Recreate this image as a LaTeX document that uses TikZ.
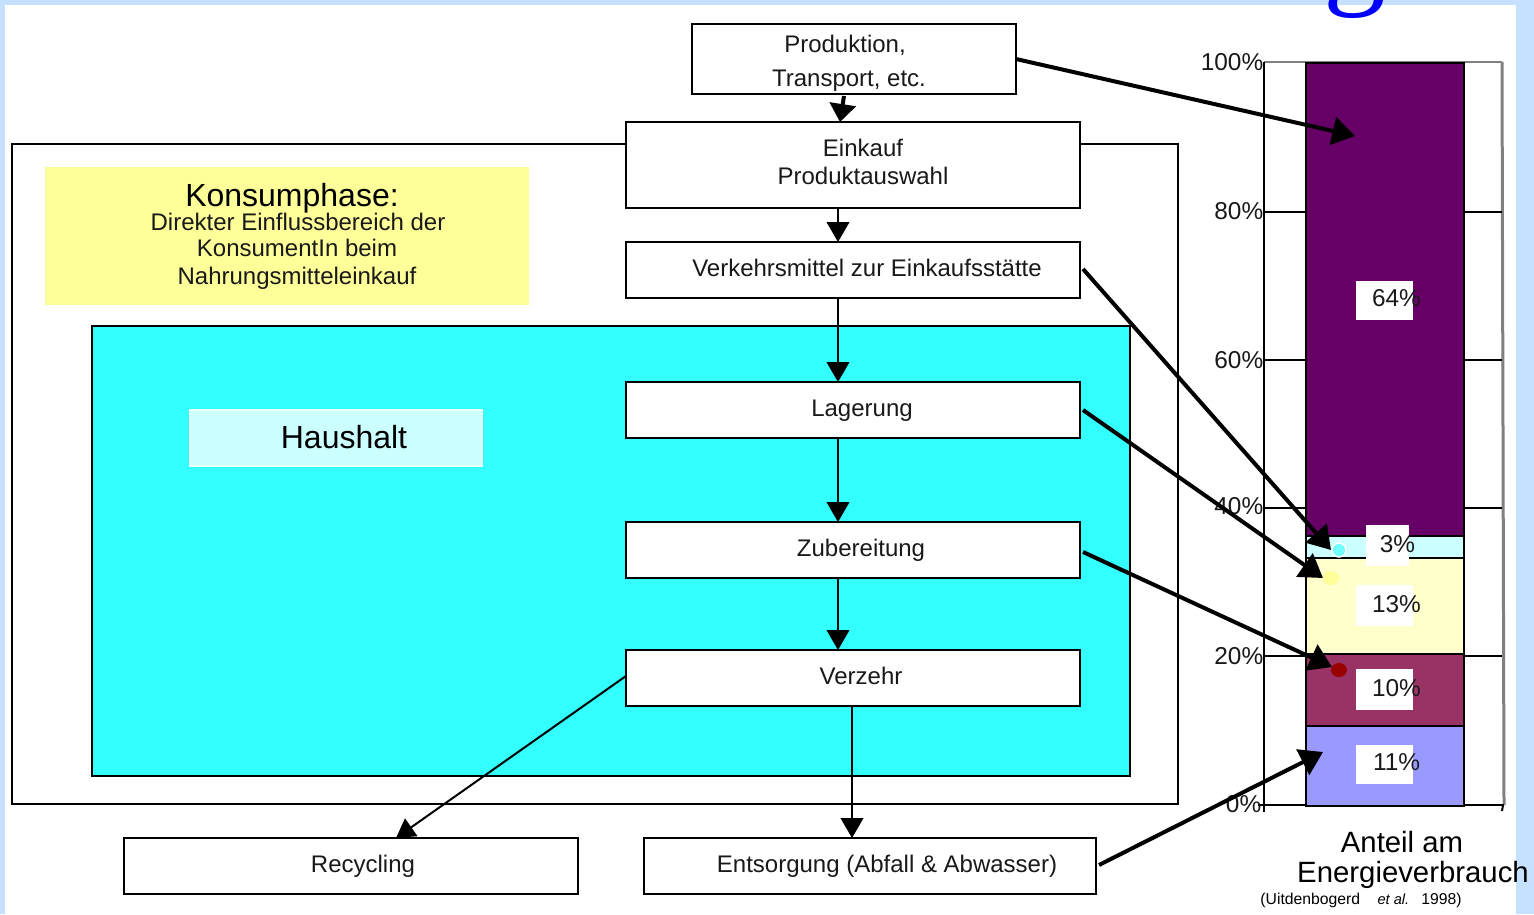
\documentclass[tikz,border=0pt]{standalone}
\usepackage{fontspec}
\setmainfont{Liberation Sans}
\newfontfamily\serifg{Liberation Serif}
\usetikzlibrary{arrows.meta,shapes.geometric}
\definecolor{pageblue}{HTML}{C6E0FF}
\definecolor{hh}{HTML}{33FFFF}
\definecolor{hhlight}{HTML}{CCFFFF}
\definecolor{yel}{HTML}{FFFF99}
\definecolor{lyel}{HTML}{FFFFCC}
\definecolor{purp}{HTML}{660066}
\definecolor{maro}{HTML}{993366}
\definecolor{peri}{HTML}{9999FF}
\tikzset{
  px/.style={line width=#1*0.75pt},
  boxn/.style={draw=black,px=2,fill=white,inner sep=0pt,outer sep=0pt,anchor=north west},
  txt/.style={inner sep=0pt,font=\fontsize{18}{18}\selectfont,text=black!90},
  bigtxt/.style={inner sep=0pt,font=\fontsize{24}{24}\selectfont,text=black},
  ax/.style={inner sep=0pt,font=\fontsize{18.3}{18.3}\selectfont,text=black!90,anchor=east},
  pcttxt/.style={inner sep=0pt,font=\fontsize{18.3}{18.3}\selectfont,text=black!90},
  pct/.style={inner sep=0pt,outer sep=0pt,fill=white,anchor=north west},
  seg/.style={draw=black,px=2.5,inner sep=0pt,outer sep=0pt,anchor=north west},
  thin arrow/.style={draw=black,px=2,-{Triangle[length=15pt,width=17pt]}},
  short arrow/.style={draw=black,px=4,-{Triangle[length=13.5pt,width=19.5pt]}},
  thick arrow/.style={draw=black,px=4,-{Triangle[length=17pt,width=21pt]}},
  grid line/.style={draw=black,px=2},
}
\begin{document}
\begin{tikzpicture}[x=0.75pt,y=-0.75pt]
\useasboundingbox (0,0) rectangle (1534,914);
\clip (0,0) rectangle (1534,914);
\fill[pageblue] (0,0) rectangle (1534,914);
\fill[white] (5,5) rectangle (1516,914);
\node[inner sep=0pt,anchor=base,text=blue,font=\serifg\fontsize{94}{94}\selectfont] (gletter) at (1355,-9) {g};

% consumption phase frame
\node[boxn,minimum width=1166.5*0.75pt,minimum height=660*0.75pt] (phase) at (11.5,144) {};
\node[anchor=north west,fill=yel,minimum width=484*0.75pt,minimum height=138*0.75pt,inner sep=0pt,outer sep=0pt] (yellowbox) at (45,167) {};
\node[bigtxt] (konsum) at (292,198) {Konsumphase:};
\node[txt] (k1) at (298,222) {Direkter Einflussbereich der};
\node[txt] (k2) at (297,248) {KonsumentIn beim};
\node[txt] (k3) at (297,278) {Nahrungsmitteleinkauf};
\node[boxn,fill=hh,minimum width=1038*0.75pt,minimum height=450*0.75pt] (haushalt) at (92,326) {};
\node[anchor=north west,fill=hhlight,draw=hhlight!50!white,px=2,minimum width=292*0.75pt,minimum height=56*0.75pt,inner sep=0pt,outer sep=0pt] (hhbox) at (190,410) {};
\node[bigtxt] (hhtxt) at (344,437) {Haushalt};

% process boxes
\node[boxn,minimum width=324*0.75pt,minimum height=70*0.75pt] (prod) at (692,24) {};
\node[boxn,minimum width=454*0.75pt,minimum height=86*0.75pt] (eink) at (626,122) {};
\node[boxn,minimum width=454*0.75pt,minimum height=56*0.75pt] (verk) at (626,242) {};
\node[boxn,minimum width=454*0.75pt,minimum height=56*0.75pt] (lager) at (626,382) {};
\node[boxn,minimum width=454*0.75pt,minimum height=56*0.75pt] (zub) at (626,522) {};
\node[boxn,minimum width=454*0.75pt,minimum height=56*0.75pt] (verz) at (626,650) {};
\node[boxn,minimum width=454*0.75pt,minimum height=56*0.75pt] (recy) at (124,838) {};
\node[boxn,minimum width=452*0.75pt,minimum height=56*0.75pt] (ents) at (644,838) {};

\node[txt] (t1a) at (845,45) {Produktion,};
\node[txt] (t1b) at (849,81) {Transport, etc.};
\node[txt] (t2a) at (863,148) {Einkauf};
\node[txt] (t2b) at (863,176) {Produktauswahl};
\node[txt] (t3) at (867,268) {Verkehrsmittel zur Einkaufsstätte};
\node[txt] (t4) at (862,411) {Lagerung};
\node[txt] (t5) at (861,550) {Zubereitung};
\node[txt] (t6) at (861,676) {Verzehr};
\node[txt] (t7) at (363,866) {Recycling};
\node[txt] (t8) at (887,866) {Entsorgung (Abfall \& Abwasser)};

% chart frame
\draw[draw=black!50,px=2] (1264,62) -- (1502,62);
\draw[draw=black!50,px=3] (1502,62) -- (1504,805);
\foreach \yy in {212,360,508,656}{\draw[grid line] (1264,\yy) -- (1502,\yy);}
\draw[grid line] (1258,805) -- (1504,805);
\draw[grid line] (1264,62) -- (1264,812);
\draw[grid line] (1503,805) -- (1502,811);

% stacked bar
\node[seg,fill=purp,minimum width=158*0.75pt,minimum height=473*0.75pt] (s64) at (1306,63) {};
\node[seg,fill=hhlight,minimum width=158*0.75pt,minimum height=22*0.75pt] (s3) at (1306,536) {};
\node[seg,fill=lyel,minimum width=158*0.75pt,minimum height=96*0.75pt] (s13) at (1306,558) {};
\node[seg,fill=maro,minimum width=158*0.75pt,minimum height=72*0.75pt] (s10) at (1306,654) {};
\node[seg,fill=peri,minimum width=158*0.75pt,minimum height=80*0.75pt] (s11) at (1306,726) {};

\node[pct,minimum width=57*0.75pt,minimum height=39*0.75pt] (w64) at (1356,281) {};
\node[pct,minimum width=43*0.75pt,minimum height=41*0.75pt] (w3) at (1366,525) {};
\node[pct,minimum width=57*0.75pt,minimum height=41*0.75pt] (w13) at (1356,585) {};
\node[pct,minimum width=57*0.75pt,minimum height=41*0.75pt] (w10) at (1356,669) {};
\node[pct,minimum width=57*0.75pt,minimum height=39*0.75pt] (w11) at (1356,745) {};
\node[pcttxt] (p64) at (1396.5,298) {64\%};
\node[pcttxt] (p3) at (1397.5,544) {3\%};
\node[pcttxt] (p13) at (1396.5,604) {13\%};
\node[pcttxt] (p10) at (1396.5,688) {10\%};
\node[pcttxt] (p11) at (1396.5,762) {11\%};

\node[ax] (a100) at (1263.5,62) {100\%};
\node[ax] (a80) at (1263.5,211) {80\%};
\node[ax] (a60) at (1263.5,360) {60\%};
\node[ax] (a40) at (1263.5,506) {40\%};
\node[ax] (a20) at (1263.5,656) {20\%};
\node[ax] (a0) at (1261.5,804) {0\%};

\node[inner sep=0pt,font=\fontsize{22}{22}\selectfont] (an1) at (1402,842) {Anteil am};
\node[inner sep=0pt,font=\fontsize{22}{22}\selectfont] (an2) at (1413,875) {Energieverbrauch};
\node[inner sep=0pt,font=\fontsize{11.8}{12}\selectfont] (cite) at (1361,900) {(Uitdenbogerd\hspace{13pt}{\fontsize{11}{12}\selectfont\textit{et al.}}\hspace{9pt}1998)};

% dots
\node[circle,fill=hh!70!white,draw=white,px=1.5,minimum size=14*0.75pt,inner sep=0pt] (dotc) at (1339,550) {};
\node[ellipse,fill=yel,minimum width=16*0.75pt,minimum height=14*0.75pt,inner sep=0pt] (doty) at (1331,578) {};
\node[ellipse,fill=red!60!black,minimum width=16*0.75pt,minimum height=14*0.75pt,inner sep=0pt] (dotr) at (1339,670) {};

% connector ends
\coordinate (xb) at (838,0);
\coordinate (xc) at (852,0);
\coordinate (e0) at (840,122);
\coordinate (e1) at (1355,136);
\coordinate (e2) at (1331,550);
\coordinate (e3) at (1323,578);
\coordinate (e4) at (1332,667);
\coordinate (e5) at (1323,752);
\coordinate (e6) at (396,838);
\coordinate (s0) at (844,96);
\coordinate (s2) at (1083,269);
\coordinate (s3a) at (1083,410);
\coordinate (s4) at (1083,552);
\coordinate (s5) at (1099,865);
\coordinate (s6) at (626,676);

\draw[short arrow] (s0) -- (e0);
\draw[thin arrow] (eink.south -| xb) -- (verk.north -| xb);
\draw[thin arrow] (verk.south -| xb) -- (lager.north -| xb);
\draw[thin arrow] (lager.south -| xb) -- (zub.north -| xb);
\draw[thin arrow] (zub.south -| xb) -- (verz.north -| xb);
\draw[draw=black,px=2,-{Triangle[length=14pt,width=16pt]}] (s6) -- (e6);
\draw[thin arrow] (verz.south -| xc) -- (ents.north -| xc);
\draw[thick arrow] (prod.east) -- (e1);
\draw[thick arrow] (s2) -- (e2);
\draw[thick arrow] (s3a) -- (e3);
\draw[thick arrow] (s4) -- (e4);
\draw[thick arrow] (s5) -- (e5);
\end{tikzpicture}
\end{document}
